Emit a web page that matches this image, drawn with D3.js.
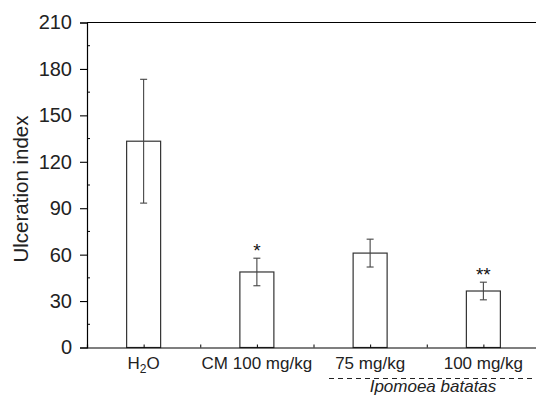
<!DOCTYPE html>
<html><head><meta charset="utf-8">
<script src="https://cdn.jsdelivr.net/npm/d3@7"></script>
<style>body{margin:0;background:#fff}svg{display:block;font-family:"Liberation Sans",Arial,sans-serif}</style>
</head><body><svg id="c" width="536" height="395"></svg>
<script>
const categories = ["H2O", "CM 100 mg/kg", "75 mg/kg", "100 mg/kg"];
const means = [133.3, 48.8, 61.0, 36.5];
const errors = [40.0, 8.9, 9.0, 5.7];
const stars = ["", "*", "", "**"];
const yTicks = [0, 30, 60, 90, 120, 150, 180, 210];
const groupLabel = "Ipomoea batatas";

const svg = d3.select("#c");
const L = 87, R = 540, T = 22.5, B = 347.5;
const x = d3.scaleLinear().domain([0.5, 4.5]).range([L, R]);
const y = d3.scaleLinear().domain([0, 210]).range([B, T]);
const bw = 34;

// frame top
svg.append("line").attr("x1", L).attr("x2", R).attr("y1", T).attr("y2", T).attr("stroke", "#000").attr("stroke-width", 1.2);

// bars
const g = svg.append("g");
categories.forEach((c, i) => {
  const cx = x(i + 1);
  g.append("rect").attr("x", cx - bw / 2).attr("y", y(means[i])).attr("width", bw).attr("height", y(0) - y(means[i]))
    .attr("fill", "#fff").attr("stroke", "#333").attr("stroke-width", 1.2);
  const e1 = y(means[i] + errors[i]), e2 = y(means[i] - errors[i]);
  g.append("line").attr("x1", cx).attr("x2", cx).attr("y1", e1).attr("y2", e2).attr("stroke", "#444").attr("stroke-width", 1.1);
  [e1, e2].forEach(yy => g.append("line").attr("x1", cx - 3.5).attr("x2", cx + 3.5).attr("y1", yy).attr("y2", yy).attr("stroke", "#444").attr("stroke-width", 1.1));
  if (stars[i]) g.append("text").attr("x", cx).attr("y", e1 - 1).attr("text-anchor", "middle").attr("font-size", 19).attr("fill", "#111").text(stars[i]);
});

// y axis
const ya = svg.append("g").attr("transform", `translate(${L},0)`)
  .call(d3.axisLeft(y).tickValues(yTicks).tickSize(7).tickPadding(8));
ya.select(".domain").attr("stroke", "#000").attr("stroke-width", 1.2);
ya.selectAll(".tick line").attr("stroke", "#000").attr("stroke-width", 1.1);
ya.selectAll("text").attr("font-size", 20).attr("fill", "#222").attr("font-family", "Liberation Sans, Arial, sans-serif");
// minor y ticks inward
svg.append("g").selectAll("line").data(d3.range(15, 210, 30)).join("line")
  .attr("x1", L).attr("x2", L + 3).attr("y1", d => y(d)).attr("y2", d => y(d)).attr("stroke", "#000");

// x axis
const xa = svg.append("g").attr("transform", `translate(0,${B})`)
  .call(d3.axisBottom(x).tickValues(d3.range(1, 4.6, 0.5)).tickSize(-3).tickFormat(""));
xa.select(".domain").attr("stroke", "#000").attr("stroke-width", 1.2);
xa.selectAll(".tick line").attr("stroke", "#000");

// x labels
categories.forEach((c, i) => {
  const t = svg.append("text").attr("x", x(i + 1)).attr("y", 369).attr("text-anchor", "middle").attr("font-size", 17).attr("fill", "#222");
  if (c === "H2O") {
    t.append("tspan").text("H");
    t.append("tspan").attr("font-size", 12).attr("dy", 4).text("2");
    t.append("tspan").attr("dy", -4).text("O");
  } else t.text(c);
});

// group line & label
svg.append("line").attr("x1", 329).attr("x2", 540).attr("y1", 378.5).attr("y2", 378.5)
  .attr("stroke", "#222").attr("stroke-width", 1).attr("stroke-dasharray", "5,4");
svg.append("text").attr("x", 433).attr("y", 392).attr("text-anchor", "middle").attr("font-size", 17).attr("font-style", "italic").attr("fill", "#222").text(groupLabel);

// y title
svg.append("text").attr("transform", `translate(28,${(T + B) / 2 + 4}) rotate(-90)`).attr("text-anchor", "middle")
  .attr("font-size", 20.5).attr("fill", "#222").text("Ulceration index");
</script></body></html>
